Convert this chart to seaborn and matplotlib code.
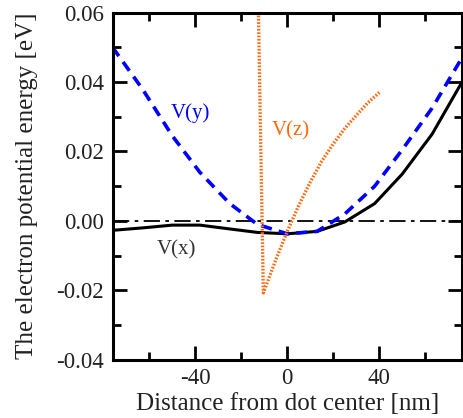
import matplotlib
matplotlib.use("Agg")
import matplotlib.pyplot as plt
from matplotlib.ticker import MultipleLocator
import seaborn as sns

# -------------------------------
# Data
# -------------------------------
x_grid = [-76, -63, -50, -38, -25, -13, 0, 13, 25, 38, 50, 63, 76]
v_x = [-0.0027, -0.0020, -0.0012, -0.0012, -0.0023, -0.0033, -0.0037,
       -0.0030, -0.0003, 0.0050, 0.0135, 0.0250, 0.0400]
v_y = [0.0500, 0.0380, 0.0245, 0.0140, 0.0050, -0.0010, -0.0037,
       -0.0030, 0.0020, 0.0100, 0.0205, 0.0325, 0.0470]

z_pos = [-12.6, -10.4, -5, 0, 5, 10, 15, 20, 25, 30, 35, 40.4]
v_z = [0.0620, -0.0207, -0.0112, -0.0030, 0.0045, 0.0112, 0.0172,
       0.0222, 0.0266, 0.0304, 0.0340, 0.0372]

# -------------------------------
# Style
# -------------------------------
sns.set_style("ticks")
plt.rcParams["font.family"] = ["Liberation Serif", "DejaVu Serif"]
plt.rcParams["axes.unicode_minus"] = False

fig = plt.figure(figsize=(4.64, 4.18), dpi=100)
ax = fig.add_axes([0.2425, 0.139, 0.7532, 0.831])

ax.axhline(0, color="black", lw=1.3, linestyle=(0, (9, 3, 2, 3)))
sns.lineplot(x=x_grid, y=v_x, ax=ax, color="black", lw=2.2,
             sort=False, estimator=None)
sns.lineplot(x=x_grid, y=v_y, ax=ax, color="#0000ff", lw=2.6,
             linestyle=(0, (3, 2)), sort=False, estimator=None)
sns.lineplot(x=z_pos, y=v_z, ax=ax, color="#ff6a10", lw=2.4,
             linestyle=(0, (0.5, 0.5)), sort=False, estimator=None)

ax.text(-42, 0.031, "V(y)", color="#0000ff", fontsize=15, ha="center", va="center")
ax.text(1.5, 0.026, "V(z)", color="#ff6a10", fontsize=15, ha="center", va="center")
ax.text(-48, -0.0082, "V(x)", color="#333333", fontsize=15, ha="center", va="center")

ax.set_xlim(-76, 76)
ax.set_ylim(-0.04, 0.06)
ax.xaxis.set_major_locator(MultipleLocator(40))
ax.xaxis.set_minor_locator(MultipleLocator(20))
ax.yaxis.set_major_locator(MultipleLocator(0.02))
ax.yaxis.set_minor_locator(MultipleLocator(0.01))
ax.yaxis.set_major_formatter(matplotlib.ticker.FormatStrFormatter("%.2f"))
ax.xaxis.set_major_formatter(matplotlib.ticker.FormatStrFormatter("%d"))

ax.tick_params(which="both", direction="in", top=True, right=True,
               labelsize=16.5, colors="black", pad=6)
ax.tick_params(axis="y", labelcolor="#222222")
ax.tick_params(axis="x", labelcolor="#222222")
ax.tick_params(which="major", length=10, width=2)
ax.tick_params(which="minor", length=6, width=2)
for s in ax.spines.values():
    s.set_linewidth(2.2)
    s.set_color("black")

ax.set_xlabel("Distance from dot center [nm]", fontsize=18, labelpad=3, color="#222222")
ax.set_ylabel("The electron potential energy [eV]", fontsize=18, labelpad=13, color="#222222")

fig.savefig("out.png", dpi=100)
